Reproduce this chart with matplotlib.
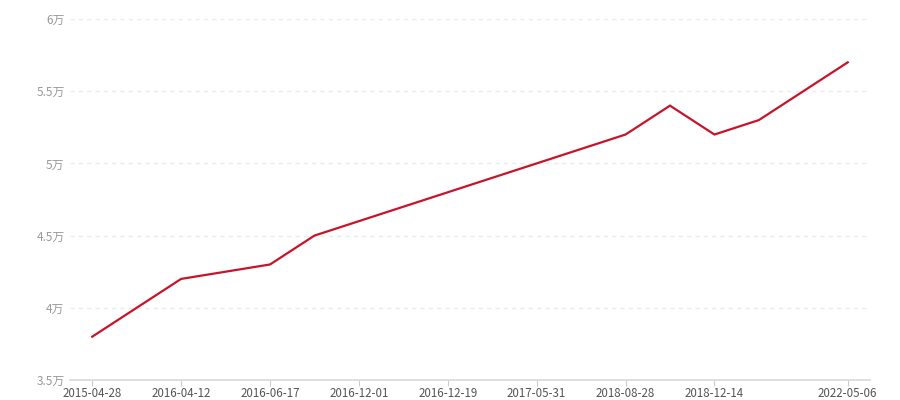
import matplotlib
matplotlib.use("Agg")
import matplotlib.pyplot as plt
from matplotlib.ticker import FixedLocator, FuncFormatter

plt.rcParams['font.family'] = ['Noto Sans CJK SC', 'DejaVu Sans']

categories = ["2015-04-28", "", "2016-04-12", "", "2016-06-17", "", "2016-12-01", "",
              "2016-12-19", "", "2017-05-31", "", "2018-08-28", "", "2018-12-14", "", "", "2022-05-06"]
values = [38000, 40000, 42000, 42500, 43000, 45000, 46000, 47000, 48000,
          49000, 50000, 51000, 52000, 54000, 52000, 53000, 55000, 57000]
y_ticks = [35000, 40000, 45000, 50000, 55000, 60000]

fig = plt.figure(figsize=(9, 4), dpi=100)
ax = fig.add_axes([70/900, 20/400, 800/900, 361/400])

x = list(range(len(values)))
ax.plot(x, values, color='#c8142a', linewidth=1.6, solid_joinstyle='miter')

ax.set_xlim(-0.5, len(values) - 0.5)
ax.set_ylim(35000, 60000)

label_idx = [i for i, c in enumerate(categories) if c]
ax.set_xticks(label_idx)
ax.set_xticklabels([categories[i] for i in label_idx], fontsize=8.3, color='#555555')
ax.tick_params(axis='x', length=4, color='#cccccc', pad=1)

ax.yaxis.set_major_locator(FixedLocator(y_ticks))
def fmt(v, pos):
    s = ('%g' % (v / 10000))
    return s + '万'
ax.yaxis.set_major_formatter(FuncFormatter(fmt))
ax.tick_params(axis='y', length=0, labelsize=8.5, labelcolor='#999999', pad=4)

ax.grid(axis='y', color='#ebebeb', linestyle=(0, (3, 3)), linewidth=1)
ax.set_axisbelow(True)
for s in ['top', 'right', 'left']:
    ax.spines[s].set_visible(False)
ax.spines['bottom'].set_color('#d9d9d9')
ax.spines['bottom'].set_linewidth(1.2)

fig.savefig('out.png', dpi=100)
